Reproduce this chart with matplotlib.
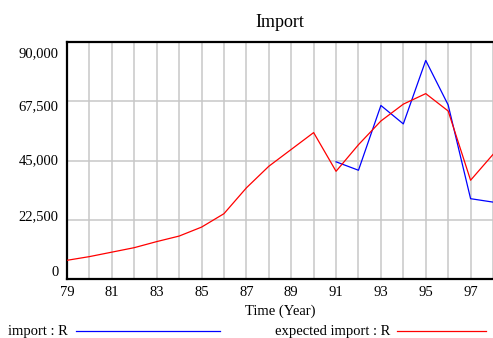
import numpy as np
import matplotlib.pyplot as plt
from matplotlib.lines import Line2D
from matplotlib.transforms import ScaledTranslation

# Data
years = list(range(79, 99))
expected_import = [7100, 8500, 10200, 11900, 14200, 16300, 19700, 24800, 34600, 42800,
                   49200, 55600, 40900, 51000, 60000, 66400, 70400, 63800, 37500, 47300]
import_years = list(range(91, 99))
import_values = [44500, 41300, 65900, 58900, 83000, 66100, 30500, 29200]

y_ticks = [0, 22500, 45000, 67500, 90000]
y_tick_labels = ['0', '22,500', '45,000', '67,500', '90,000']

plt.rcParams['font.family'] = ['Liberation Serif', 'DejaVu Serif']

fig = plt.figure(figsize=(4.93, 3.38), dpi=100)
ax = fig.add_axes([67 / 493, 1 - 279 / 338, 1 - 67 / 493, (279 - 42) / 338])

ax.plot(import_years, import_values, color='#0000ff', lw=0.9, zorder=3)
ax.plot(years, expected_import, color='#ff0000', lw=0.9, zorder=3)

ax.set_xlim(79, 98)
ax.set_ylim(0, 90000)

ax.set_xticks(years)
ax.set_xticklabels([str(y) if y % 2 == 1 else '' for y in years])
ax.set_yticks(y_ticks)
ax.set_yticklabels(y_tick_labels)
ax.tick_params(length=0, labelsize=10.5, pad=6)
ax.tick_params(axis='x', pad=5)
ax.grid(True, color='#c8c8c8', lw=1.1)
ax.set_axisbelow(True)

# Vensim-style label spread on the y axis (pixels up)
shifts = [8, 5, 1, -4, -10]
for lab, dy in zip(ax.get_yticklabels(), shifts):
    lab.set_transform(lab.get_transform() + ScaledTranslation(0, dy / 100, fig.dpi_scale_trans))

for side in ['left', 'bottom', 'top']:
    ax.spines[side].set_linewidth(1.6)
    ax.spines[side].set_color('black')
ax.spines['right'].set_visible(False)

ax.set_title('Import', fontsize=13, pad=11)
ax.set_xlabel('Time (Year)', fontsize=10.5, labelpad=4)

# legend row at the bottom
ly = 1 - 331 / 338
fig.text(8 / 493, ly, 'import : R', fontsize=10.5, va='center', ha='left')
fig.add_artist(Line2D([76 / 493, 220 / 493], [ly, ly], color='#0000ff', lw=0.9, transform=fig.transFigure))
fig.text(275 / 493, ly, 'expected import : R', fontsize=10.5, va='center', ha='left')
fig.add_artist(Line2D([397 / 493, 486 / 493], [ly, ly], color='#ff0000', lw=0.9, transform=fig.transFigure))

fig.savefig('out.png', dpi=100)
